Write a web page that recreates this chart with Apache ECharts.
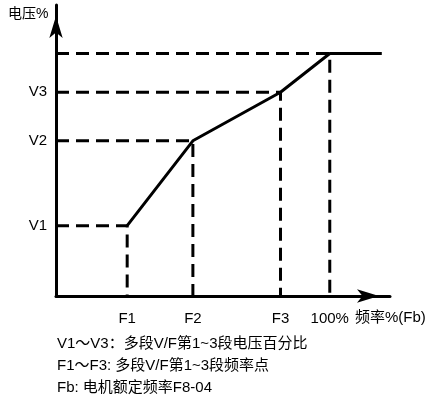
<!DOCTYPE html>
<html>
<head>
<meta charset="utf-8">
<script src="https://cdn.jsdelivr.net/npm/echarts@6/dist/echarts.min.js"></script>
<style>
  html, body { margin: 0; padding: 0; background: #fff; }
  #main { width: 428px; height: 399px; }
</style>
</head>
<body>
<div id="main"></div>
<script>
// 多段V/F曲线 数据
var freqPoints = [26, 50, 82, 100];      // F1, F2, F3, 100%
var voltPoints = [29, 64, 84, 100];      // V1, V2, V3, 100%
var freqLabels = ["F1", "F2", "F3", "100%"];
var voltLabels = ["V1", "V2", "V3"];
var freqEnd = 119;                        // 曲线延长到的频率
var notes = [
  "V1～V3：多段V/F第1~3段电压百分比",
  "F1～F3: 多段V/F第1~3段频率点",
  "Fb: 电机额定频率F8-04"
];

var FONT = "Liberation Sans, Arial, Noto Sans CJK SC";

var myChart = echarts.init(document.getElementById("main"));

// 虚线辅助线
var dashSeries = [];
for (var i = 0; i < freqPoints.length; i++) {
  dashSeries.push({
    type: "line",
    symbol: "none",
    silent: true,
    z: 2,
    lineStyle: { color: "#000", width: 3, type: [13, 7] },
    data: [[0, voltPoints[i]], [freqPoints[i], voltPoints[i]], [freqPoints[i], 0]]
  });
}

// 主曲线
var curveData = [];
for (var j = 0; j < freqPoints.length; j++) {
  curveData.push([freqPoints[j], voltPoints[j]]);
}
curveData.push([freqEnd, voltPoints[voltPoints.length - 1]]);

var graphics = [
  {
    type: "text", left: 8, top: 7,
    style: { text: "电压%", font: "14px " + FONT, fill: "#000" }
  },
  {
    type: "text", left: 355, top: 310,
    style: { text: "频率%(Fb)", font: "15px " + FONT, fill: "#000" }
  }
];
notes.forEach(function (t, k) {
  graphics.push({
    type: "text", left: 57, top: 336 + k * 22,
    style: { text: t, font: "15px " + FONT, fill: "#000" }
  });
});

myChart.setOption({
  animation: false,
  grid: { left: 56, right: 38, top: 5, bottom: 103, containLabel: false },
  xAxis: {
    type: "value",
    min: 0,
    max: 122,
    splitLine: { show: false },
    axisTick: { show: false },
    axisLine: {
      lineStyle: { color: "#000", width: 3 },
      symbol: ["none", "arrow"],
      symbolSize: [10, 22],
      symbolOffset: [0, -11]
    },
    axisLabel: {
      customValues: freqPoints,
      margin: 15,
      color: "#000",
      fontSize: 15,
      fontFamily: FONT,
      formatter: function (v) {
        var idx = freqPoints.indexOf(v);
        return idx >= 0 ? freqLabels[idx] : "";
      }
    }
  },
  yAxis: {
    type: "value",
    min: 0,
    max: 120,
    splitLine: { show: false },
    axisTick: { show: false },
    axisLine: {
      lineStyle: { color: "#000", width: 3 },
      symbol: ["none", "arrow"],
      symbolSize: [10, 22],
      symbolOffset: [0, -11]
    },
    axisLabel: {
      customValues: voltPoints.slice(0, 3),
      margin: 9,
      color: "#000",
      fontSize: 15,
      fontFamily: FONT,
      formatter: function (v) {
        var idx = voltPoints.indexOf(v);
        return idx >= 0 && idx < voltLabels.length ? voltLabels[idx] : "";
      }
    }
  },
  graphic: graphics,
  series: dashSeries.concat([
    {
      type: "line",
      symbol: "none",
      silent: true,
      z: 3,
      lineStyle: { color: "#000", width: 3 },
      data: curveData
    }
  ])
});
</script>
</body>
</html>
